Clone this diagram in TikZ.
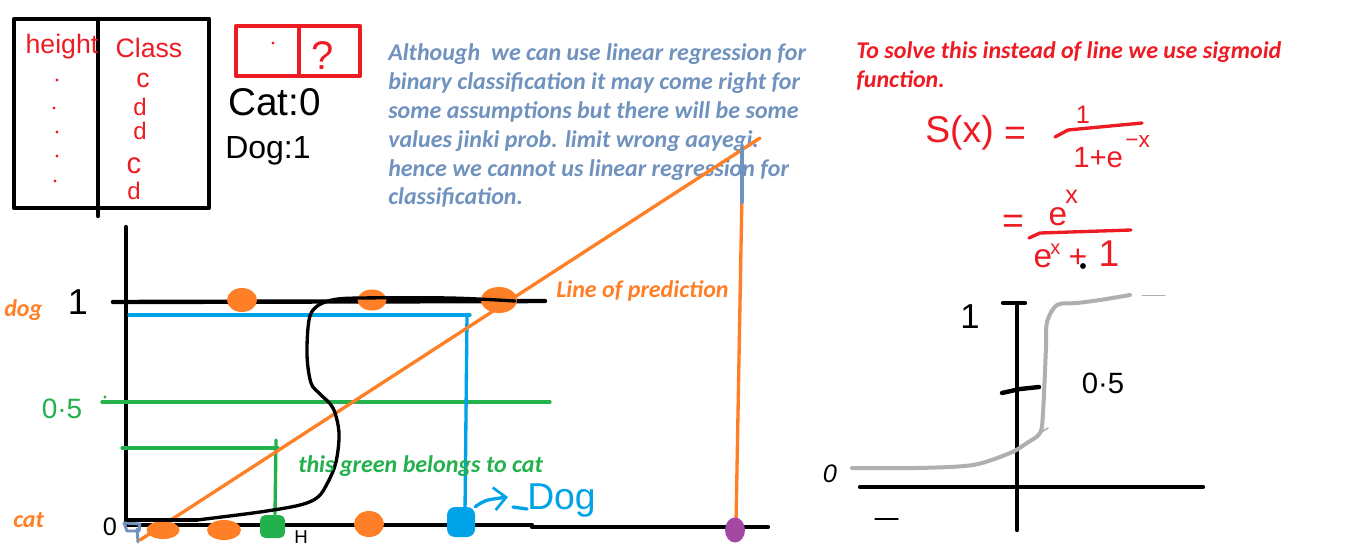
\documentclass[tikz,border=0pt]{standalone}
\usepackage{fontspec}
\setmainfont{Carlito}
\newfontfamily\hand{Liberation Sans}
\usetikzlibrary{shapes.geometric,arrows.meta}
\definecolor{pred}{RGB}{237,28,36}
\definecolor{porange}{RGB}{255,127,39}
\definecolor{pgreen}{RGB}{34,177,76}
\definecolor{pblue}{RGB}{0,162,232}
\definecolor{pgblue}{RGB}{112,146,190}
\definecolor{ppurple}{RGB}{163,73,164}
\definecolor{pgrey}{RGB}{175,175,175}
\newcommand{\hsz}[1]{\hand\fontsize{#1}{#1}\selectfont}
\tikzset{
  typed/.style={font=\bfseries\itshape\fontsize{18}{21}\selectfont, inner sep=0pt, anchor=base west},
  hw/.style={inner sep=0pt, anchor=base},
  thickln/.style={line width=3.3pt},
  medln/.style={line width=2.5pt},
}
\begin{document}
\begin{tikzpicture}[x=0.75pt,y=-0.75pt,line cap=round,line join=round]
\useasboundingbox (0,0) rectangle (1355,558);
\fill[white] (0,0) rectangle (1355,558);

% ---------- table ----------
\draw[thickln] (14,19) rectangle (209,208);
\draw[thickln] (98,19) -- (98,216);
\node[hw,pred,font=\hsz{20}] (hgt) at (62,53) {height};
\node[hw,pred,font=\hsz{20}] (cls) at (149,57) {Class};
\foreach \yy/\xx in {80/57,108/54,132/57,156/57,181/55} \fill[pred] (\xx,\yy) circle[radius=1.3pt];
\node[hw,pred,font=\hsz{20}] (c1) at (143,87) {c};
\node[hw,pred,font=\hsz{18}] (d1) at (140,115) {d};
\node[hw,pred,font=\hsz{18}] (d2) at (140,139) {d};
\node[hw,pred,font=\hsz{22}] (c2) at (134,173) {c};
\node[hw,pred,font=\hsz{18}] (d3) at (134,199) {d};

% ---------- red box ----------
\draw[pred,thickln] (236,26) rectangle (360,76);
\draw[pred,thickln] (299,26) -- (299,76);
\fill[pred] (273,43) circle[radius=1.3pt];
\node[hw,pred,font=\hsz{30}] (q) at (323,69) {?};
\node[hw,font=\hsz{29},anchor=base west] (cat0) at (228,115) {Cat:0};
\node[hw,font=\hsz{24},anchor=base west] (dog1) at (225,158) {Dog:1};

% ---------- blue text ----------
\begin{scope}[every node/.style={typed,text=pgblue}]
\node (b1) at (388,60) {Although~ we can use linear regression for};
\node (b2) at (388,89) {binary classification it may come right for};
\node (b3) at (388,118) {some assumptions but there will be some};
\node (b4) at (388,147) {values jinki prob. limit wrong aayegi.};
\node (b5) at (388,176) {hence we cannot us linear regression for};
\node (b6) at (388,204) {classification.};
\end{scope}

% ---------- red text ----------
\node[typed,text=pred] (r1) at (856,58) {To solve this instead of line we use sigmoid};
\node[typed,text=pred] (r2) at (856,87) {function.};

% ---------- formula ----------
\node[hw,pred,font=\hsz{28},anchor=base west] (sx) at (925,142) {S(x)};
\node[pred,font=\hsz{28},inner sep=0pt] (eq1) at (1015,136) {=};
\node[hw,pred,font=\hsz{19}] (n1) at (1083,123) {1};
\draw[pred,medln] (1055,137) -- (1068,130) -- (1142,123);
\node[hw,pred,font=\hsz{22},anchor=base west] (den1) at (1073,167) {1+e};
\node[hw,pred,font=\hsz{17},anchor=base west] (sup1) at (1125,147) {\textminus x};
\node[pred,font=\hsz{28},inner sep=0pt] (eq2) at (1013,224) {=};
\node[hw,pred,font=\hsz{25}] (n2) at (1058,225) {e};
\node[hw,pred,font=\hsz{19},anchor=base west] (n2s) at (1065,203) {x};
\draw[pred,medln] (1029,238) -- (1040,233) -- (1131,230);
\node[hw,pred,font=\hsz{25}] (d2e) at (1043,267) {e};
\node[hw,pred,font=\hsz{15},anchor=base west] (d2s) at (1050,254) {x};
\node[pred,font=\hsz{24},inner sep=0pt] (d2p) at (1078,258) {+};
\node[hw,pred,font=\hsz{28}] (d21) at (1109,266) {1};
\fill (1083,266) circle[radius=2.2pt];

% ---------- left graph ----------
\draw[thickln] (126,227) -- (126,522);
\draw[thickln] (113,302) -- (545,301);
\draw[thickln] (126,525) -- (532,525) -- (532,527) -- (768,527);
\node[hw,font=\hsz{27}] (one) at (78,314) {1};
\node[typed,text=porange] (dogl) at (4,316) {dog};
\node[typed,text=porange] (catl) at (13,527) {cat};
\node[hw,pgreen,font=\hsz{21}] (half) at (62,418) {0·5};
\fill[pgreen] (105,397) circle[radius=1.2pt];
\node[hw,font=\hsz{19}] (zero) at (110,535) {0};
\node[hw,font=\hsz{14}] (hh) at (301,543) {H};
\draw[pgblue,line width=2.2pt] (124,523) -- (140,524) -- (139,531) -- (127,531) -- (124,523);
\draw[pgblue,line width=2.2pt] (137,529) -- (138,542);

\draw[pgreen,medln] (102,402) -- (550,402);
\draw[pgreen,medln] (122,448) -- (278,448);
\draw[pgreen,medln] (276,440) -- (275,514);
\draw[pblue,medln] (129,315) -- (470,315);
\draw[pblue,medln] (467,315) -- (465,512);

\draw[porange,medln] (140,540) -- (760,138);
\draw[porange,medln] (742,192) -- (736,524);
\draw[pgblue,thickln] (742,148) -- (742,202);

\fill[porange] (242,300) ellipse[x radius=15,y radius=12];
\fill[porange] (372,300) ellipse[x radius=14.5,y radius=10.5];
\fill[porange] (499,300) ellipse[x radius=18,y radius=13];
\fill[porange] (163,530) ellipse[x radius=16.5,y radius=9];
\fill[porange] (224,530) ellipse[x radius=17,y radius=10];
\fill[porange] (369,524) ellipse[x radius=15,y radius=13];
\fill[pgreen,rounded corners=4pt] (260,515) rectangle (285,538);
\node[fill=pblue,rounded corners=6pt,minimum width=21pt,minimum height=22.5pt,inner sep=0pt] (bblob) at (461,522) {};
\fill[ppurple] (735,530) ellipse[x radius=10,y radius=12.5];

\draw[medln] (128,520) -- (197,520);
\draw[medln] plot[smooth,tension=0.55] coordinates {(197,520) (260,512) (300,505) (318,497) (328,482) (336,462) (339,433) (333,408) (320,394) (311,383) (307,355) (309,320) (316,307) (332,300) (360,298) (450,298) (515,301)};

\node[typed,text=porange] (lop) at (556,297) {Line of prediction};
\node[typed,text=pgreen] (tgb) at (298,472) {this green belongs to cat};

\node[hw,pblue,font=\hsz{28},anchor=base west] (dogt) at (527,509) {Dog};
\draw[pblue,medln,-{Straight Barb[length=9pt,width=17pt,line width=2pt]}] (bblob.north east) .. controls (485,500) .. (508,497);
\draw[pblue,medln] (513,507) -- (dogt.base west);

% ---------- right graph ----------
\draw[thickln] (1017,303) -- (1017,530);
\draw[thickln] (1003,303) -- (1025,303);
\draw[thickln] (1002,393) -- (1020,389) -- (1039,387);
\draw[thickln] (860,487) -- (1203,487);
\node[hw,font=\hsz{26}] (r1l) at (970,328) {1};
\node[hw,font=\hsz{22}] (r05) at (1103,393) {0·5};
\node[hw,font=\itshape\hsz{19}] (r0) at (830,482) {0};
\draw[line width=1pt] (875,519) -- (898,519);
\draw[pgrey,line width=3pt] plot[smooth,tension=0.5] coordinates {(852,468) (917,468) (973,465) (1010,453) (1027,443) (1040,433) (1043,413) (1046,347) (1047,322) (1057,305) (1077,303) (1100,300) (1130,295)};
\draw[pgrey,line width=1.2pt] (1038,434) -- (1048,428);
\draw[pgrey,line width=0.7pt] (1142,295) -- (1165,295);
\end{tikzpicture}
\end{document}
